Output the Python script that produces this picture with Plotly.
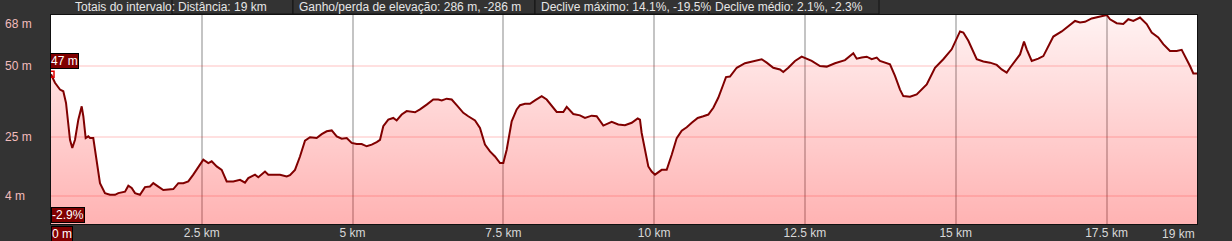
import plotly.graph_objects as go

# ---------------- data ----------------
DIST_KM = [0.0, 0.066, 0.149, 0.204, 0.249, 0.315, 0.353, 0.398, 0.453, 0.509, 0.536, 0.575,
           0.618, 0.647, 0.701, 0.758, 0.812, 0.895, 0.978, 1.061, 1.116, 1.227, 1.282, 1.338,
           1.393, 1.475, 1.558, 1.641, 1.696, 1.779, 1.862, 2.028, 2.111, 2.194, 2.276, 2.359,
           2.442, 2.525, 2.608, 2.664, 2.747, 2.830, 2.913, 3.022, 3.134, 3.216, 3.271, 3.382,
           3.437, 3.548, 3.603, 3.797, 3.908, 3.962, 4.045, 4.128, 4.211, 4.294, 4.405, 4.488,
           4.571, 4.654, 4.737, 4.820, 4.903, 4.985, 5.068, 5.151, 5.234, 5.317, 5.400, 5.455,
           5.509, 5.592, 5.675, 5.731, 5.814, 5.897, 6.035, 6.118, 6.229, 6.338, 6.421, 6.478,
           6.560, 6.643, 6.726, 6.836, 6.918, 7.030, 7.112, 7.195, 7.278, 7.361, 7.444, 7.499,
           7.555, 7.610, 7.638, 7.721, 7.776, 7.859, 7.941, 8.024, 8.135, 8.218, 8.301, 8.384,
           8.494, 8.550, 8.659, 8.770, 8.853, 8.964, 9.047, 9.157, 9.296, 9.405, 9.516, 9.628,
           9.727, 9.765, 9.793, 9.848, 9.903, 9.959, 10.014, 10.125, 10.208, 10.291, 10.374,
           10.457, 10.540, 10.623, 10.722, 10.815, 10.898, 10.981, 11.063, 11.146, 11.191,
           11.257, 11.369, 11.506, 11.644, 11.783, 11.866, 11.975, 12.086, 12.141, 12.224,
           12.335, 12.446, 12.529, 12.612, 12.749, 12.861, 12.998, 13.164, 13.302, 13.358,
           13.441, 13.524, 13.607, 13.690, 13.744, 13.910, 13.993, 14.076, 14.131, 14.242,
           14.353, 14.519, 14.656, 14.794, 14.933, 15.071, 15.126, 15.209, 15.348, 15.458,
           15.569, 15.680, 15.762, 15.845, 15.900, 16.011, 16.066, 16.132, 16.177, 16.260,
           16.369, 16.452, 16.535, 16.618, 16.757, 16.867, 16.978, 17.060, 17.143, 17.254,
           17.392, 17.503, 17.558, 17.669, 17.778, 17.861, 17.944, 18.055, 18.166, 18.249,
           18.358, 18.441, 18.552, 18.663, 18.746, 18.801, 18.884, 18.939, 19.0]

ELEV_M = [47.1, 44.1, 41.7, 41.1, 37.0, 24.0, 21.1, 24.0, 31.1, 35.8, 32.3, 24.6,
          25.2, 24.6, 24.6, 15.8, 8.7, 5.2, 4.6, 4.6, 5.2, 5.7, 7.8, 7.0,
          5.2, 4.6, 7.3, 7.5, 8.7, 7.5, 6.3, 6.6, 8.7, 8.7, 9.3, 11.7,
          14.6, 17.0, 15.8, 16.4, 14.6, 13.4, 9.3, 9.3, 9.9, 8.9, 10.5, 11.7,
          10.8, 12.8, 11.7, 11.7, 11.1, 11.5, 13.4, 18.1, 23.7, 24.9, 24.6, 26.0,
          27.0, 27.3, 25.2, 24.4, 24.6, 22.9, 22.5, 22.5, 21.7, 22.3, 23.2, 24.0,
          28.8, 31.1, 31.7, 30.8, 32.9, 34.1, 33.7, 34.7, 36.4, 38.2, 38.2, 37.9,
          38.5, 38.2, 36.2, 33.5, 32.3, 30.8, 28.2, 22.3, 19.9, 18.1, 15.8, 15.8,
          20.5, 27.6, 30.5, 34.7, 36.2, 36.7, 36.7, 37.9, 39.4, 38.2, 35.8, 33.8,
          33.8, 35.6, 33.1, 32.6, 31.7, 32.5, 32.3, 29.0, 30.3, 29.4, 29.1, 30.0,
          31.5, 31.1, 26.4, 19.9, 14.6, 12.8, 11.7, 13.4, 13.4, 18.7, 24.6,
          27.2, 28.4, 30.0, 31.7, 32.3, 32.9, 35.3, 38.8, 43.5, 46.1,
          46.3, 49.4, 51.0, 51.8, 52.4, 51.2, 49.4, 48.8, 47.9, 49.4,
          51.8, 53.3, 52.6, 51.8, 50.0, 49.8, 51.0, 52.1, 54.5, 52.6,
          53.0, 53.3, 52.4, 53.0, 51.8, 50.6, 46.5, 41.7, 39.4, 39.2,
          40.0, 43.5, 49.4, 52.4, 55.9, 62.2, 61.8, 58.9, 52.4, 51.6,
          51.2, 50.4, 48.8, 47.7, 49.4, 52.4, 54.1, 58.6, 55.9, 51.8,
          52.6, 53.5, 57.1, 60.4, 62.2, 64.2, 65.9, 65.4, 65.6, 66.8,
          67.5, 68.0, 66.5, 65.1, 64.8, 66.5, 65.9, 67.1, 64.8, 61.8,
          60.1, 57.7, 55.3, 55.3, 55.7, 53.5, 50.0, 47.4, 47.4]

X_TICKS = [2.5, 5, 7.5, 10, 12.5, 15, 17.5]
X_TICK_TEXT = ["2.5 km", "5 km", "7.5 km", "10 km", "12.5 km", "15 km", "17.5 km"]
Y_TICKS = [4, 25, 50, 68]
Y_TICK_TEXT = ["4 m", "25 m", "50 m", "68 m"]
X_END_LABEL = "19 km"
START_LABEL = "0 m"
START_ELEV_LABEL = "47 m"
SLOPE_LABEL = "-2.9%"
SUMMARY_TITLE = "Totais do intervalo:"
SUMMARY_ITEMS = ["Distância: 19 km",
                 "Ganho/perda de elevação: 286 m, -286 m",
                 "Declive máximo: 14.1%, -19.5%",
                 "Declive médio: 2.1%, -2.3%"]

# ---------------- layout constants ----------------
W, H = 1232, 241
L, R, T, B = 51, 1197, 15, 224
Y_MIN, Y_MAX = -5.7, 68.0
X_MIN, X_MAX = 0, 19
FONT = "Liberation Sans, Arial, sans-serif"
BG = "#333333"
LINE = "#800000"


def px(x):
    return (x - L) / (R - L)


def py(y):
    return (B - y) / (B - T)


fig = go.Figure()

# baseline for fill
fig.add_trace(go.Scatter(x=[X_MIN, X_MAX], y=[Y_MIN, Y_MIN], mode="lines",
                         line=dict(width=0, color="rgba(0,0,0,0)"),
                         hoverinfo="skip", showlegend=False))
fig.add_trace(go.Scatter(
    x=DIST_KM, y=ELEV_M, mode="lines", fill="tonexty",
    line=dict(color=LINE, width=2),
    fillgradient=dict(type="vertical",
                      colorscale=[[0, "rgba(255,0,0,0.30)"], [1, "rgba(255,0,0,0.05)"]],
                      start=Y_MIN, stop=Y_MAX),
    showlegend=False))
fig.add_trace(go.Scatter(x=[DIST_KM[0]], y=[ELEV_M[0]], mode="markers",
                         marker=dict(symbol="square-open", size=6, color="#e00000",
                                     line=dict(width=1.5, color="#e00000")),
                         showlegend=False))

annotations = []
# y labels
for v, t in zip(Y_TICKS, Y_TICK_TEXT):
    top = v >= Y_MAX
    annotations.append(dict(x=px(3), xref="paper", y=v, yref="y", text=t,
                            xanchor="left", yanchor="top" if top else "middle",
                            showarrow=False, font=dict(color="#f2bcbc", size=12, family=FONT)))
# end x label
annotations.append(dict(x=X_MAX, xref="x", y=0, yref="paper", text=X_END_LABEL,
                        xanchor="right", yanchor="top", yshift=-1, showarrow=False,
                        font=dict(color="#d8d8d8", size=12, family=FONT)))
# start label box
annotations.append(dict(x=X_MIN, xref="x", y=0, yref="paper", text=START_LABEL,
                        xanchor="left", yanchor="top", yshift=-2, showarrow=False,
                        bgcolor=LINE, bordercolor="#000000", borderwidth=1, borderpad=0,
                        font=dict(color="#ffffff", size=12, family=FONT)))
annotations.append(dict(x=DIST_KM[0], xref="x", y=ELEV_M[0], yref="y", text=START_ELEV_LABEL,
                        xanchor="left", yanchor="bottom", yshift=5, xshift=-1, showarrow=False,
                        bgcolor=LINE, bordercolor="#000000", borderwidth=1, borderpad=0,
                        font=dict(color="#ffffff", size=12, family=FONT)))
annotations.append(dict(x=0, xref="paper", y=0, yref="paper", text=SLOPE_LABEL,
                        xanchor="left", yanchor="bottom", yshift=1, showarrow=False,
                        bgcolor=LINE, bordercolor="#000000", borderwidth=1, borderpad=0,
                        font=dict(color="#ffffff", size=12, family=FONT)))

# summary bar
annotations.append(dict(x=px(73), xref="paper", y=py(7), yref="paper", text=SUMMARY_TITLE,
                        xanchor="left", yanchor="middle", showarrow=False,
                        font=dict(color="#e6e6e6", size=12, family=FONT)))
shapes = []
box_edges = [172, 293, 535, 709, 879]
for i, t in enumerate(SUMMARY_ITEMS):
    x0, x1 = box_edges[i], box_edges[i + 1]
    shapes.append(dict(type="rect", xref="paper", yref="paper",
                       x0=px(x0), x1=px(x1), y0=py(14), y1=py(-1),
                       line=dict(color="#141414", width=1), fillcolor=BG, layer="above"))
    annotations.append(dict(x=px(x0 + 4), xref="paper", y=py(7), yref="paper", text=t,
                            xanchor="left", yanchor="middle", showarrow=False,
                            font=dict(color="#e6e6e6", size=12, family=FONT)))

fig.update_layout(
    width=W, height=H, autosize=False,
    margin=dict(l=L, r=W - R, t=T, b=H - B, pad=0),
    paper_bgcolor=BG, plot_bgcolor="#ffffff",
    showlegend=False,
    font=dict(family=FONT, size=12, color="#d8d8d8"),
    xaxis=dict(range=[X_MIN, X_MAX], tickvals=X_TICKS, ticktext=X_TICK_TEXT,
               showgrid=True, gridcolor="#c4c4c4", gridwidth=2, zeroline=False,
               ticks="", ticklen=0, tickfont=dict(color="#d8d8d8", size=12, family=FONT),
               ticklabelstandoff=-2, automargin=False,
               showline=True, linecolor="#111111", linewidth=1, mirror=True, fixedrange=True),
    yaxis=dict(range=[Y_MIN, Y_MAX], tickvals=Y_TICKS[:-1], showticklabels=False,
               showgrid=True, gridcolor="rgba(255,0,0,0.12)", gridwidth=2, zeroline=False,
               ticks="", showline=True, linecolor="#111111", linewidth=1, mirror=True,
               automargin=False, fixedrange=True),
    annotations=annotations, shapes=shapes,
)

fig.write_html("out.html", config=dict(displayModeBar=False))
